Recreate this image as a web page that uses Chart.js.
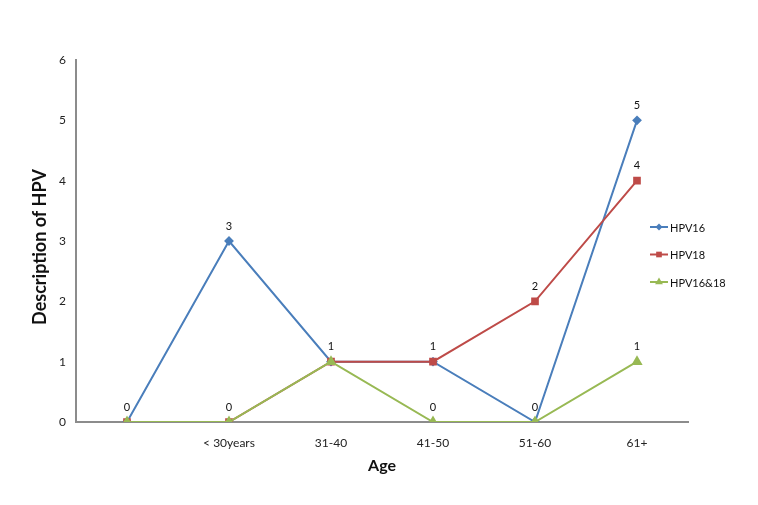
<!DOCTYPE html>
<html>
<head>
<meta charset="utf-8">
<script src="https://cdn.jsdelivr.net/npm/chart.js@4"></script>
<style>
html,body{margin:0;padding:0;background:#fff;}
#wrap{width:758px;height:505px;position:relative;}
</style>
</head>
<body>
<div id="wrap"><canvas id="c" width="758" height="505"></canvas></div>
<script>
const categories = ["", "< 30years", "31-40", "41-50", "51-60", "61+"];
const hpv16 = [0, 3, 1, 1, 0, 5];
const hpv18 = [0, 0, 1, 1, 2, 4];
const hpv1618 = [0, 0, 1, 0, 0, 1];
const seriesNames = ["HPV16", "HPV18", "HPV16&18"];
const yTicks = [0, 1, 2, 3, 4, 5, 6];
const xTitle = "Age";
const yTitle = "Description of HPV";

const FONT = "Lato, 'Open Sans', sans-serif";
const colors = ["#4A7EBB", "#BE4B48", "#98B954"];
const shapes = ["rectRot", "rect", "triangle"];
const radii = [3.5, 4, 4.5];

const datasets = [hpv16, hpv18, hpv1618].map((d, i) => ({
  label: seriesNames[i],
  data: d,
  borderColor: colors[i],
  backgroundColor: colors[i],
  pointStyle: shapes[i],
  pointRadius: radii[i],
  pointHoverRadius: radii[i],
  borderWidth: 2,
  tension: 0,
  order: 3 - i
}));

const valueLabels = {
  id: 'valueLabels',
  afterDatasetsDraw(chart) {
    const ctx = chart.ctx;
    ctx.save();
    ctx.font = "11px " + FONT;
    ctx.fillStyle = "#111";
    ctx.textAlign = "center";
    ctx.textBaseline = "middle";
    const seen = new Set();
    chart.data.datasets.forEach((ds, i) => {
      const meta = chart.getDatasetMeta(i);
      meta.data.forEach((pt, j) => {
        const key = Math.round(pt.x) + "_" + Math.round(pt.y);
        if (seen.has(key)) return;
        seen.add(key);
        ctx.fillText(String(ds.data[j]), pt.x, pt.y - 15);
      });
    });
    ctx.restore();
  }
};

const customDecor = {
  id: 'customDecor',
  afterDraw(chart) {
    const ctx = chart.ctx;
    ctx.save();
    ctx.font = "11px " + FONT;
    ctx.textBaseline = "middle";
    ctx.textAlign = "left";
    chart.data.datasets.forEach((ds, i) => {
      const y = 227 + i * 27.5;
      const x0 = 650, x1 = 668;
      ctx.strokeStyle = ds.borderColor;
      ctx.lineWidth = 2;
      ctx.beginPath(); ctx.moveTo(x0, y); ctx.lineTo(x1, y); ctx.stroke();
      ctx.fillStyle = ds.borderColor;
      Chart.helpers.drawPoint(ctx, {pointStyle: ds.pointStyle, radius: ds.pointRadius, borderWidth: 0}, (x0 + x1) / 2, y);
      ctx.fillStyle = "#111";
      ctx.fillText(ds.label, 670, y + 1);
    });
    // axis titles
    ctx.fillStyle = "#111";
    ctx.textAlign = "center";
    ctx.font = "bold 16px " + FONT;
    ctx.fillText(xTitle, 382, 466);
    ctx.translate(40, 247);
    ctx.rotate(-Math.PI / 2);
    ctx.font = "bold 18px " + FONT;
    ctx.fillText(yTitle, 0, 0);
    ctx.restore();
  }
};

new Chart(document.getElementById('c'), {
  type: 'line',
  data: { labels: categories, datasets },
  plugins: [valueLabels, customDecor],
  options: {
    responsive: false,
    animation: false,
    devicePixelRatio: 1,
    layout: { padding: { top: 60, right: 70, left: 0, bottom: 0 } },
    plugins: { legend: { display: false }, tooltip: { enabled: false } },
    scales: {
      x: {
        offset: true,
        grid: { display: false, drawTicks: false },
        border: { display: true, color: "#8c8c8c", width: 2 },
        ticks: { font: { family: FONT, size: 12 }, color: "#222", padding: 14, maxRotation: 0, autoSkip: false },
        afterFit(s) { s.height = 83; }
      },
      y: {
        min: 0, max: 6,
        afterBuildTicks(s) { s.ticks = yTicks.map(v => ({ value: v })); },
        grid: { display: false, drawTicks: false },
        border: { display: true, color: "#8c8c8c", width: 2 },
        ticks: { font: { family: FONT, size: 12 }, color: "#222", padding: 10 },
        afterFit(s) { s.width = 76; }
      }
    }
  }
});
</script>
</body>
</html>
